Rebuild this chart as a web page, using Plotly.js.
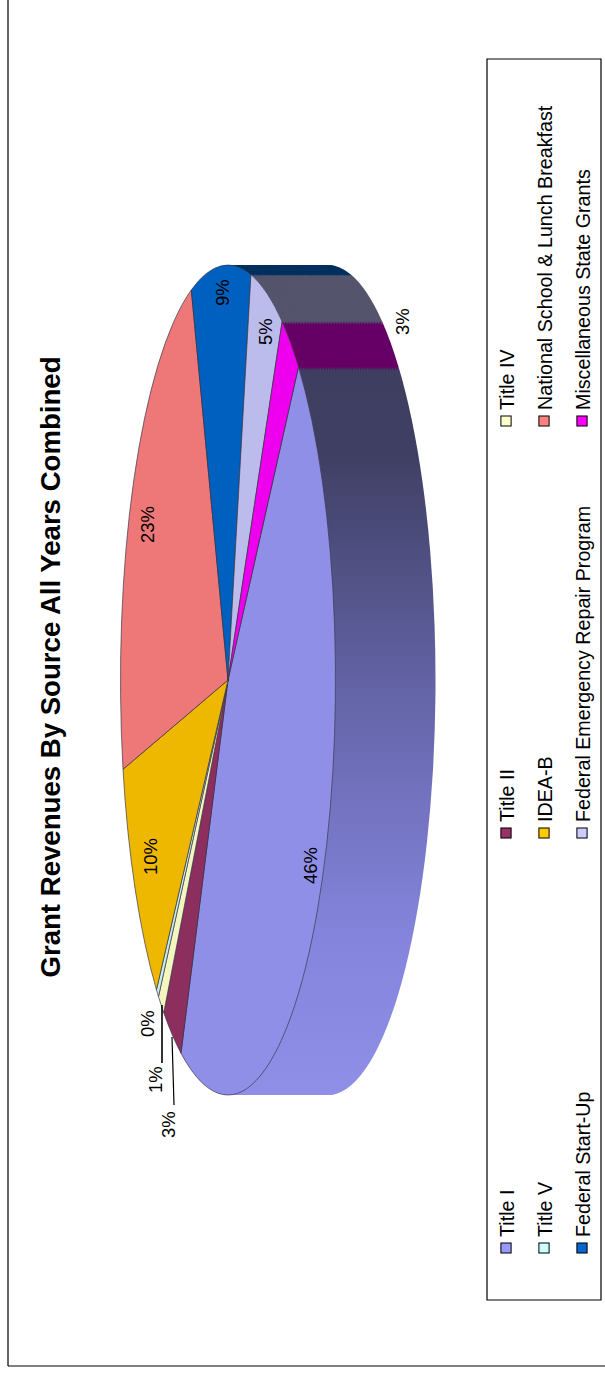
<!DOCTYPE html>
<html><head><meta charset="utf-8">
<script src="https://cdn.plot.ly/plotly-3.0.0.min.js"></script>
<style>html,body{margin:0;padding:0;background:#fff;width:605px;height:1373px;overflow:hidden}
#c{position:absolute;left:0;top:0;width:1373px;height:605px;transform-origin:0 0;transform:translate(0,1373px) rotate(-90deg)}</style>
</head><body><div id="c"></div>
<script>
const labels=["Title I","Title II","Title IV","Title V","IDEA-B","National School & Lunch Breakfast","Federal Start-Up","Federal Emergency Repair Program","Miscellaneous State Grants"];
const values=[46,3,1,0.4,10,23,9,5,3];
const percentText=["46%","3%","1%","0%","10%","23%","9%","5%","3%"];
const faceColors=["#8f8fe8","#8c2f5f","#f5f5c0","#c4f0f0","#efb800","#ee7878","#0060c0","#bcbcec","#ee00ee"];
const sideColors=["#6565a8","#4c1a34","#808060","#608080","#806600","#804040","#00305f","#54546c","#660066"];
const legendColors=["#9999ff","#993366","#ffffcc","#ccffff","#ffcc00","#ff8080","#0066cc","#ccccff","#ff00ff"];
const titleText="Grant Revenues By Source All Years Combined";

const W=1373,H=605,FONT='"Liberation Sans",Arial,sans-serif';
const CX=693,CY=228,R=100,SX=4.15,SY=1.075,DEPTH=100,LAYERS=64;
function pie(dy,top){
  const yc=CY+dy;
  return {type:'pie',labels,values,sort:false,direction:'clockwise',rotation:131,textinfo:'none',hoverinfo:'skip',
    showlegend:top,domain:{x:[(CX-R)/W,(CX+R)/W],y:[1-(yc+R)/H,1-(yc-R)/H]},
    marker:{colors:top?faceColors:sideColors,line:{color:'#3a3a4a',width:top?0.7:0}}};
}
const traces=[];
for(let i=LAYERS;i>=1;i--)traces.push(pie(DEPTH/SY*i/LAYERS,false));
traces.push(pie(0,true));

const px=(X,Y)=>({x:X/W,y:1-Y/H});
const labelPos=[[508,310],[248,168],[293,155],[349,148],[516,150],[849,148],[1080,222],[1041,265],[1051,402]];
const annotations=percentText.map((t,i)=>{const p=px(labelPos[i][0],labelPos[i][1]);
  return {text:t,x:p.x,y:p.y,xref:'paper',yref:'paper',showarrow:false,xanchor:'center',yanchor:'middle',font:{family:FONT,size:18.5,color:'#000'}};});
const line=(X0,Y0,X1,Y1,w)=>({type:'line',xref:'paper',yref:'paper',x0:X0/W,y0:1-Y0/H,x1:X1/W,y1:1-Y1/H,line:{color:'#000',width:w}});
const shapes=[line(7,8,W,8,1.2),line(7,8,7,H,1.2),line(310,162,368,162,1.6),line(336,172,268,174,1.2),
  {type:'rect',xref:'paper',yref:'paper',x0:73/W,x1:1314/W,y0:1-487/H,y1:1-601/H,line:{color:'#000',width:1.2}}];

const layout={width:W,height:H,margin:{l:0,r:0,t:0,b:0,autoexpand:false},paper_bgcolor:'#fff',plot_bgcolor:'#fff',
  font:{family:FONT},
  title:{text:'<b>'+titleText+'</b>',font:{family:FONT,size:27.6,color:'#000'},xref:'paper',yref:'paper',x:706/W,y:1-50/H,xanchor:'center',yanchor:'middle'},
  annotations,shapes,
  legend:{orientation:'h',x:73/W,y:1-487/H,xanchor:'left',yanchor:'top',bgcolor:'rgba(0,0,0,0)',borderwidth:0,font:{family:FONT,size:19.7,color:'#000'},entrywidth:400,entrywidthmode:'pixels',traceorder:'normal'}};

const gd=document.getElementById('c');
Plotly.newPlot(gd,traces,layout,{displayModeBar:false,staticPlot:true}).then(()=>{
  const NS='http://www.w3.org/2000/svg';
  const svg=gd.querySelector('.main-svg');
  let defs=svg.querySelector('defs');
  const g=document.createElementNS(NS,'linearGradient');
  g.setAttribute('id','sideGrad');
  [[0,'#8f8fe8'],[0.22,'#8484dc'],[0.55,'#6464a8'],[0.88,'#3f3f64'],[1,'#3e3e60']].forEach(s=>{
    const st=document.createElementNS(NS,'stop');st.setAttribute('offset',s[0]);st.setAttribute('stop-color',s[1]);g.appendChild(st);});
  defs.appendChild(g);
  const layer=gd.querySelector('.pielayer');
  layer.setAttribute('transform',`translate(${CX},${CY}) scale(${SX},${SY}) translate(${-CX},${-CY})`);
  const tr=[...layer.querySelectorAll('.trace')];
  tr.forEach((t,i)=>{
    const sl=[...t.querySelectorAll('.slice path.surface')];
    if(i<tr.length-1){ if(sl[0]) sl[0].style.fill='url(#sideGrad)'; }
    else sl.forEach(p=>{p.style.vectorEffect='non-scaling-stroke';});
  });
  // legend columns
  const colX=[125,540,952],rowY=[506,544,582];
  const leg=gd.querySelector('.legend');
  const sb=leg.querySelector('.scrollbox'); if(sb)sb.removeAttribute('clip-path');
  const m=/translate\(([-\d.]+),\s*([-\d.]+)\)/.exec(leg.getAttribute('transform'));
  const lx=+m[1],ly=+m[2];
  [...leg.querySelectorAll('.traces')].forEach((t,i)=>{
    const c=i%3,r=Math.floor(i/3);
    t.setAttribute('transform',`translate(${colX[c]-lx-20},${rowY[r]-ly})`);
    const tx=t.querySelector('.legendtext'); if(tx){tx.setAttribute('x',31);tx.querySelectorAll('tspan').forEach(s=>{if(s.getAttribute('x'))s.setAttribute('x',31);});}
    const sw=t.querySelector('.legendpie path')||t.querySelector('.legendpoints path');
    if(sw){sw.style.fill=legendColors[i];sw.style.stroke='#000';sw.style.strokeWidth='1.2px';
      const base=sw.getAttribute('transform')||'';sw.setAttribute('transform',base+' scale(0.85)');}
  });
});
</script></body></html>
